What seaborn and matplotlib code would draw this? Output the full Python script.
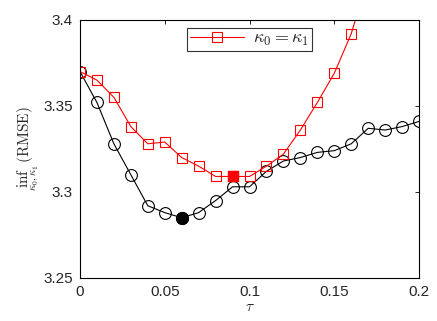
import numpy as np
import pandas as pd
import matplotlib
matplotlib.use("Agg")
import matplotlib.pyplot as plt
import seaborn as sns

# data
tau = [0.0, 0.01, 0.02, 0.03, 0.04, 0.05, 0.06, 0.07, 0.08, 0.09, 0.10,
       0.11, 0.12, 0.13, 0.14, 0.15, 0.16, 0.17, 0.18, 0.19, 0.20]
rmse_free = [3.370, 3.352, 3.328, 3.310, 3.292, 3.288, 3.285, 3.288, 3.295,
             3.303, 3.303, 3.312, 3.318, 3.320, 3.323, 3.324, 3.328, 3.337,
             3.336, 3.338, 3.341]
tau_eq = [0.0, 0.01, 0.02, 0.03, 0.04, 0.05, 0.06, 0.07, 0.08, 0.09, 0.10,
          0.11, 0.12, 0.13, 0.14, 0.15, 0.16, 0.17]
rmse_eq = [3.370, 3.365, 3.355, 3.338, 3.328, 3.329, 3.320, 3.315, 3.309,
           3.309, 3.309, 3.315, 3.322, 3.336, 3.352, 3.369, 3.392, 3.425]

df_free = pd.DataFrame({'tau': tau, 'rmse': rmse_free})
df_eq = pd.DataFrame({'tau': tau_eq, 'rmse': rmse_eq})
best_free = df_free.loc[df_free['rmse'].idxmin()]
best_eq = df_eq.iloc[[9]]

sns.set_style("white")
plt.rcParams['font.family'] = ['Liberation Sans', 'DejaVu Sans']
plt.rcParams['mathtext.fontset'] = 'cm'

fig = plt.figure(figsize=(4.37, 3.21), dpi=100)
ax = fig.add_axes([0.183, 0.134, 0.776, 0.804])

sns.lineplot(data=df_free, x='tau', y='rmse', color='black', lw=0.8,
             marker='o', markersize=8.5, markerfacecolor='none',
             markeredgecolor='black', markeredgewidth=0.8, ax=ax)
sns.lineplot(data=df_eq, x='tau', y='rmse', color='red', lw=0.8,
             marker='s', markersize=7, markerfacecolor='none',
             markeredgecolor='red', markeredgewidth=0.8,
             label=r'$\kappa_0 = \kappa_1$', ax=ax)
ax.plot(best_free['tau'], best_free['rmse'], 'o', color='black', ms=8.5)
ax.plot(best_eq['tau'], best_eq['rmse'], 's', color='red', ms=7)

ax.set_xlim(0, 0.2)
ax.set_ylim(3.25, 3.4)
ax.set_xticks([0, 0.05, 0.1, 0.15, 0.2])
ax.set_xticklabels(['0', '0.05', '0.1', '0.15', '0.2'])
ax.set_yticks([3.25, 3.3, 3.35, 3.4])
ax.set_yticklabels(['3.25', '3.3', '3.35', '3.4'])
ax.tick_params(direction='in', top=True, right=True, length=3, width=0.7,
               labelsize=11, pad=5)
for s in ax.spines.values():
    s.set_linewidth(0.8)
    s.set_color('black')

ax.set_xlabel(r'$\tau$', fontsize=11, labelpad=1)
ax.set_ylabel(r'$\underset{\kappa_0,\kappa_1}{\inf}\,(\mathrm{RMSE})$',
              fontsize=11, labelpad=2)

leg = ax.legend(loc='upper center', bbox_to_anchor=(0.50, 0.97),
                fontsize=13, frameon=True, fancybox=False, borderpad=0.15,
                handlelength=3.0, handletextpad=0.5, borderaxespad=0)
leg.get_frame().set_edgecolor('black')
leg.get_frame().set_linewidth(0.8)

fig.savefig('out.png', dpi=100)
